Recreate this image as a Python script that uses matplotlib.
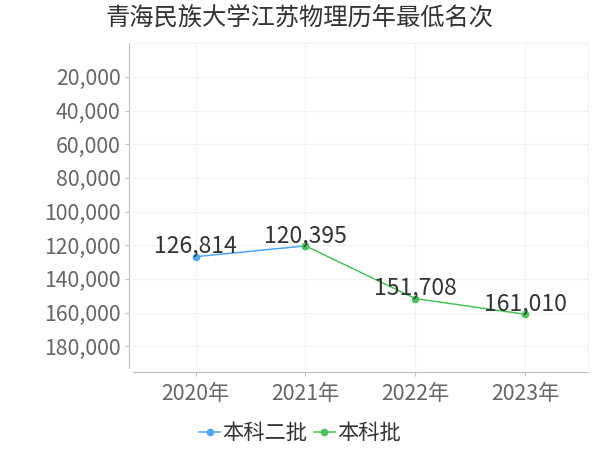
import matplotlib
matplotlib.use("Agg")
import matplotlib.pyplot as plt
from matplotlib.ticker import FuncFormatter

plt.rcParams['font.family'] = ['Noto Sans CJK SC', 'DejaVu Sans']

# data
years = ['2020年', '2021年', '2022年', '2023年']
erpi_x = [0, 1]
erpi_rank = [126814, 120395]          # 本科二批
benke_x = [1, 2, 3]
benke_rank = [120395, 151708, 161010]  # 本科批
yticks = [20000, 40000, 60000, 80000, 100000, 120000, 140000, 160000, 180000]

blue = '#4da6f5'
green = '#48c45a'

fig = plt.figure(figsize=(6, 4.5), dpi=100)
ax = fig.add_axes([0.2217, 0.182, 0.758, 0.722])

ax.plot(erpi_x, erpi_rank, color=blue, lw=1.1, marker='o', ms=4.5, label='本科二批', zorder=3)
ax.plot(benke_x, benke_rank, color=green, lw=1.1, marker='o', ms=4.5, label='本科批', zorder=3)

# value labels
labels = {}
for x, v in zip(erpi_x, erpi_rank):
    labels[x] = v
for x, v in zip(benke_x, benke_rank):
    labels[x] = v
for x, v in labels.items():
    ax.annotate(f'{v:,}', (x, v), xytext=(0, -1), textcoords='offset points',
                ha='center', va='bottom', fontsize=16.5, color='#333333', zorder=4)

ax.set_xlim(-0.57, 3.57)
ax.set_ylim(193000, 0)
ax.set_xticks(range(len(years)))
ax.set_xticklabels(years)
ax.set_yticks(yticks)
ax.yaxis.set_major_formatter(FuncFormatter(lambda v, p: f'{int(v):,}'))

ax.grid(True, color='#f2f2f2', lw=0.8)
ax.set_axisbelow(True)
for s in ['top', 'right']:
    ax.spines[s].set_color('#f2f2f2')
    ax.spines[s].set_linewidth(0.8)
for s in ['left', 'bottom']:
    ax.spines[s].set_color('#c0c0c0')
    ax.spines[s].set_position(('outward', 3))
ax.tick_params(axis='both', colors='#c0c0c0', labelcolor='#666666', labelsize=15.3, length=3)
ax.tick_params(axis='x', pad=5)
ax.tick_params(axis='y', pad=3)

fig.suptitle('青海民族大学江苏物理历年最低名次', x=0.5, y=0.99, fontsize=17.5, color='#333333')

leg = fig.legend(loc='lower center', bbox_to_anchor=(0.5, -0.03), ncol=2, frameon=False,
                 fontsize=15.3, handlelength=1.0, handletextpad=0.1, columnspacing=0.3)
for t in leg.get_texts():
    t.set_color('#333333')

fig.savefig('out.png', dpi=100)
